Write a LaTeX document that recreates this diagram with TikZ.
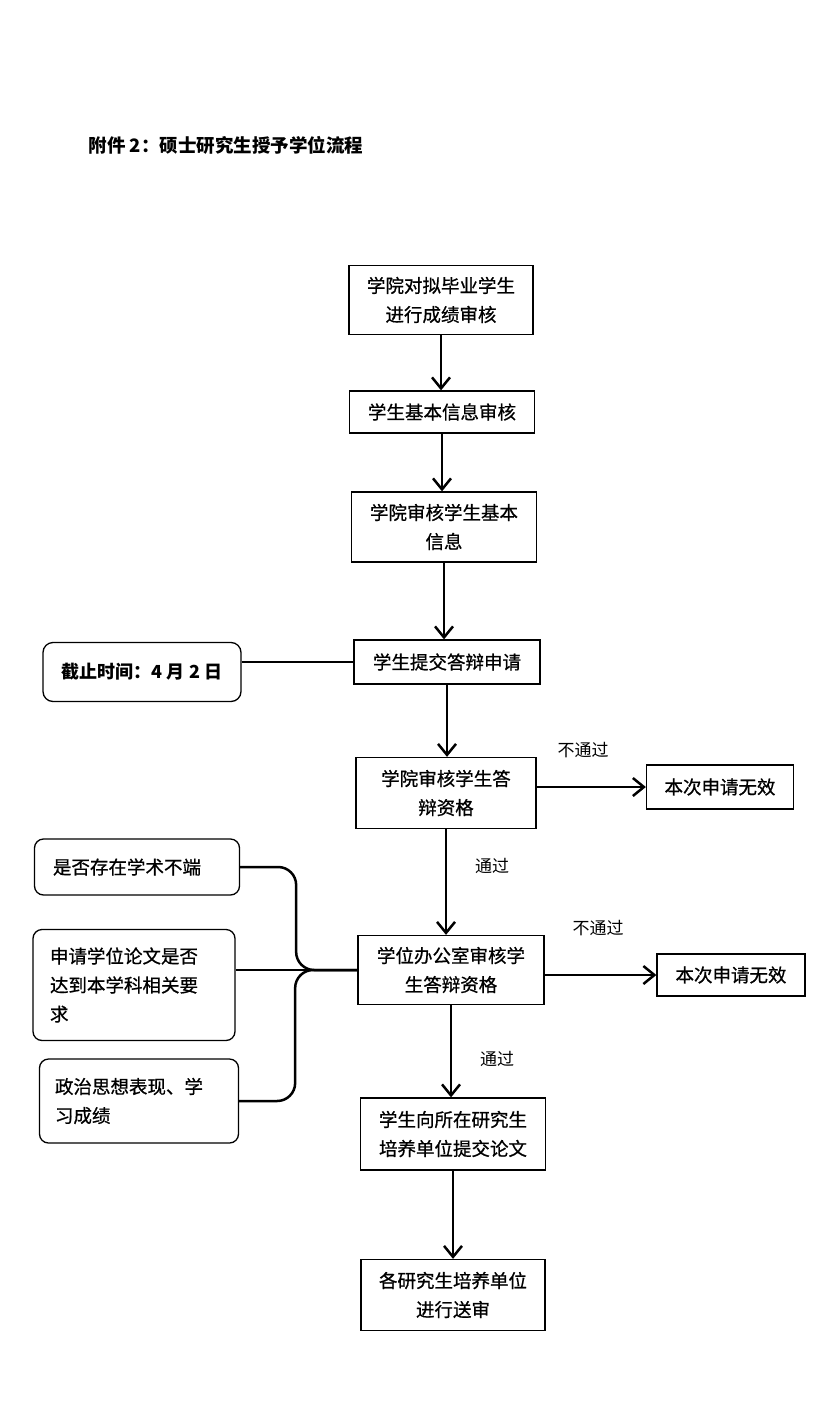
\documentclass[tikz,border=0pt]{standalone}
\usepackage{fontspec}
\setmainfont{Noto Sans CJK SC}
\newfontfamily\boxfont[FakeBold=0.8]{Noto Sans CJK SC}
\usetikzlibrary{arrows.meta}
\tikzset{pbox/.style = {draw, line width=1.3pt, align=center, inner sep=0pt, font=\boxfont\fontsize{18.5}{29}\selectfont}}
\tikzset{rbox/.style = {pbox, rounded corners=9pt, text width=168pt, align=left}}
\tikzset{flow/.style = {line width=2.5pt, -{Straight Barb[length=11pt, width=18pt]}}}
\tikzset{plain/.style = {line width=2.5pt}}
\tikzset{note/.style = {font=\fontsize{17}{20}\selectfont}}

\begin{document}
\begin{tikzpicture}[x=1pt, y=-1pt]
      \useasboundingbox (0,0) rectangle (833,1418);
      \node [anchor=west, font=\bfseries\fontsize{18.5}{20}\selectfont] (title) at (85,145) {附件 2：硕士研究生授予学位流程};

      % main column
      \node [pbox, minimum width=184, minimum height=69] (grade) at (441,300) {学院对拟毕业学生\\进行成绩审核};
      \node [pbox, minimum width=185, minimum height=42] (info) at (442,412) {学生基本信息审核};
      \node [pbox, minimum width=185, minimum height=70] (infochk) at (444,527) {学院审核学生基本\\信息};
      \node [pbox, minimum width=186, minimum height=44] (apply) at (447,662) {学生提交答辩申请};
      \node [pbox, minimum width=180, minimum height=71] (collchk) at (446,793) {学院审核学生答\\辩资格};
      \node [pbox, minimum width=186, minimum height=69] (officechk) at (451,970) {学位办公室审核学\\生答辩资格};
      \node [pbox, minimum width=185, minimum height=72] (submit) at (453,1134) {学生向所在研究生\\培养单位提交论文};
      \node [pbox, minimum width=184, minimum height=71] (review) at (453,1295) {各研究生培养单位\\进行送审};

      % side boxes
      \node [pbox, rounded corners=10pt, minimum width=198, minimum height=59, font=\bfseries\fontsize{18}{29}\selectfont] (deadline) at (142,672) {截止时间：4 月 2 日};
      \node [pbox, minimum width=147, minimum height=44] (void1) at (720,787) {本次申请无效};
      \node [pbox, minimum width=148, minimum height=42] (void2) at (731,975) {本次申请无效};

      \node [rbox, minimum width=205, minimum height=56] (qa) at (137,867) {是否存在学术不端};
      \node [rbox, minimum width=202, minimum height=111] (qb) at (134,985) {申请学位论文是否\\达到本学科相关要\\求};
      \node [rbox, minimum width=199, minimum height=84] (qc) at (139,1101) {政治思想表现、学\\习成绩};

      % labels
      \node [note] (fail1) at (583,750) {不通过};
      \node [note] (pass1) at (492,866) {通过};
      \node [note] (fail2) at (598,928) {不通过};
      \node [note] (pass2) at (497,1059) {通过};

      \draw [flow] (grade) -- (grade |- info.north);
      \draw [flow] (info) -- (info |- infochk.north);
      \draw [flow] (infochk) -- (infochk |- apply.north);
      \draw [flow] (apply) -- (apply |- collchk.north);
      \draw [flow] (collchk) -- (collchk |- officechk.north);
      \draw [flow] (officechk) -- (officechk |- submit.north);
      \draw [flow] (submit) -- (submit |- review.north);
      \draw [flow] (collchk.east |- void1) -- (void1.west);
      \draw [flow] (officechk.east |- void2) -- (void2.west);

      \draw [plain] (deadline.east |- apply) -- (apply.west);
      \draw [plain, rounded corners=18pt] (qa.east) -- ++(56,0) |- (officechk.west);
      \draw [plain] (qb.east |- officechk) -- (officechk.west);
      \draw [plain, rounded corners=18pt] (qc.east) -- ++(56,0) |- (officechk.west);
    \end{tikzpicture}
\end{document}
